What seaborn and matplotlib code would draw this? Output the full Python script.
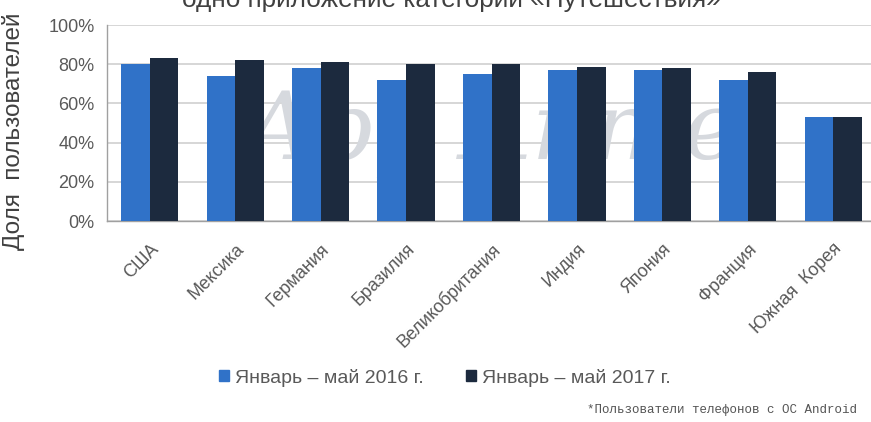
import matplotlib
matplotlib.use("Agg")
import matplotlib.pyplot as plt
import seaborn as sns
import pandas as pd
from matplotlib.ticker import PercentFormatter

countries = ["США", "Мексика", "Германия", "Бразилия", "Великобритания",
             "Индия", "Япония", "Франция", "Южная  Корея"]
share_2016 = [80, 74, 78, 72, 75, 77, 77, 72, 53]
share_2017 = [83, 82, 81, 80, 80, 78.5, 78, 76, 53]
series = ["Январь – май 2016 г.", "Январь – май 2017 г."]
colors = ["#3072C8", "#1C2A3E"]

df = pd.DataFrame({
    "country": countries * 2,
    "share": share_2016 + share_2017,
    "period": [series[0]] * len(countries) + [series[1]] * len(countries),
})

sns.set_theme(style="white")
plt.rcParams["font.family"] = ["Liberation Sans", "DejaVu Sans"]

fig = plt.figure(figsize=(8.71, 4.22), dpi=100)
ax = fig.add_axes([107 / 871, 1 - 221 / 422, (876 - 107) / 871, (221 - 25) / 422])

sns.barplot(data=df, x="country", y="share", hue="period", palette=colors,
            width=0.67, saturation=1, ax=ax, legend=False, zorder=3)
for p in ax.patches:
    p.set_edgecolor("none")

ax.set_ylim(0, 100)
ax.set_xlim(-0.5, len(countries) - 0.5)
ax.set_yticks([0, 20, 40, 60, 80, 100])
ax.yaxis.set_major_formatter(PercentFormatter(decimals=0))
ax.grid(axis="y", color="#CFCFCF", linewidth=1.2, zorder=0)
ax.set_axisbelow(True)
for s in ["top", "right"]:
    ax.spines[s].set_visible(False)
for s in ["left", "bottom"]:
    ax.spines[s].set_color("#A0A0A0")
    ax.spines[s].set_linewidth(1.0)

ax.tick_params(axis="y", labelsize=13, labelcolor="#595959", length=0, pad=9)
ax.tick_params(axis="x", labelsize=13, labelcolor="#595959", length=0, pad=14)
ax.set_xticks(range(len(countries)))
ax.set_xticklabels(countries, rotation=45, ha="right", rotation_mode="anchor")
ax.set_xlabel("")
ax.set_ylabel("Доля  пользователей", fontsize=17.5, color="#404040")
ax.yaxis.set_label_coords(-0.107, 0.46)

# watermark
ax.text(4.0, 45, "App Annie", fontsize=68, style="italic", color="#D6D9DE",
        ha="center", va="center", zorder=2, family="DejaVu Serif")

# title (cut off at top in the source)
fig.text(451.5 / 871, 1 - 7 / 422, "одно приложение категории «Путешествия»",
         fontsize=18.8, color="#404040", ha="center", va="baseline")

# legend
handles = [plt.Rectangle((0, 0), 1, 1, color=c) for c in colors]
fig.legend(handles, series, loc="center", bbox_to_anchor=(0.511, 0.105), ncol=2,
           frameon=False, fontsize=14, handlelength=0.5, handleheight=0.5,
           handletextpad=0.3, columnspacing=2.2, labelcolor="#595959")

fig.text(0.984, 0.014, "*Пользователи телефонов с ОС Android", fontsize=9,
         color="#555555", ha="right", va="bottom", family="Liberation Mono")

fig.savefig("out.png", dpi=100)
